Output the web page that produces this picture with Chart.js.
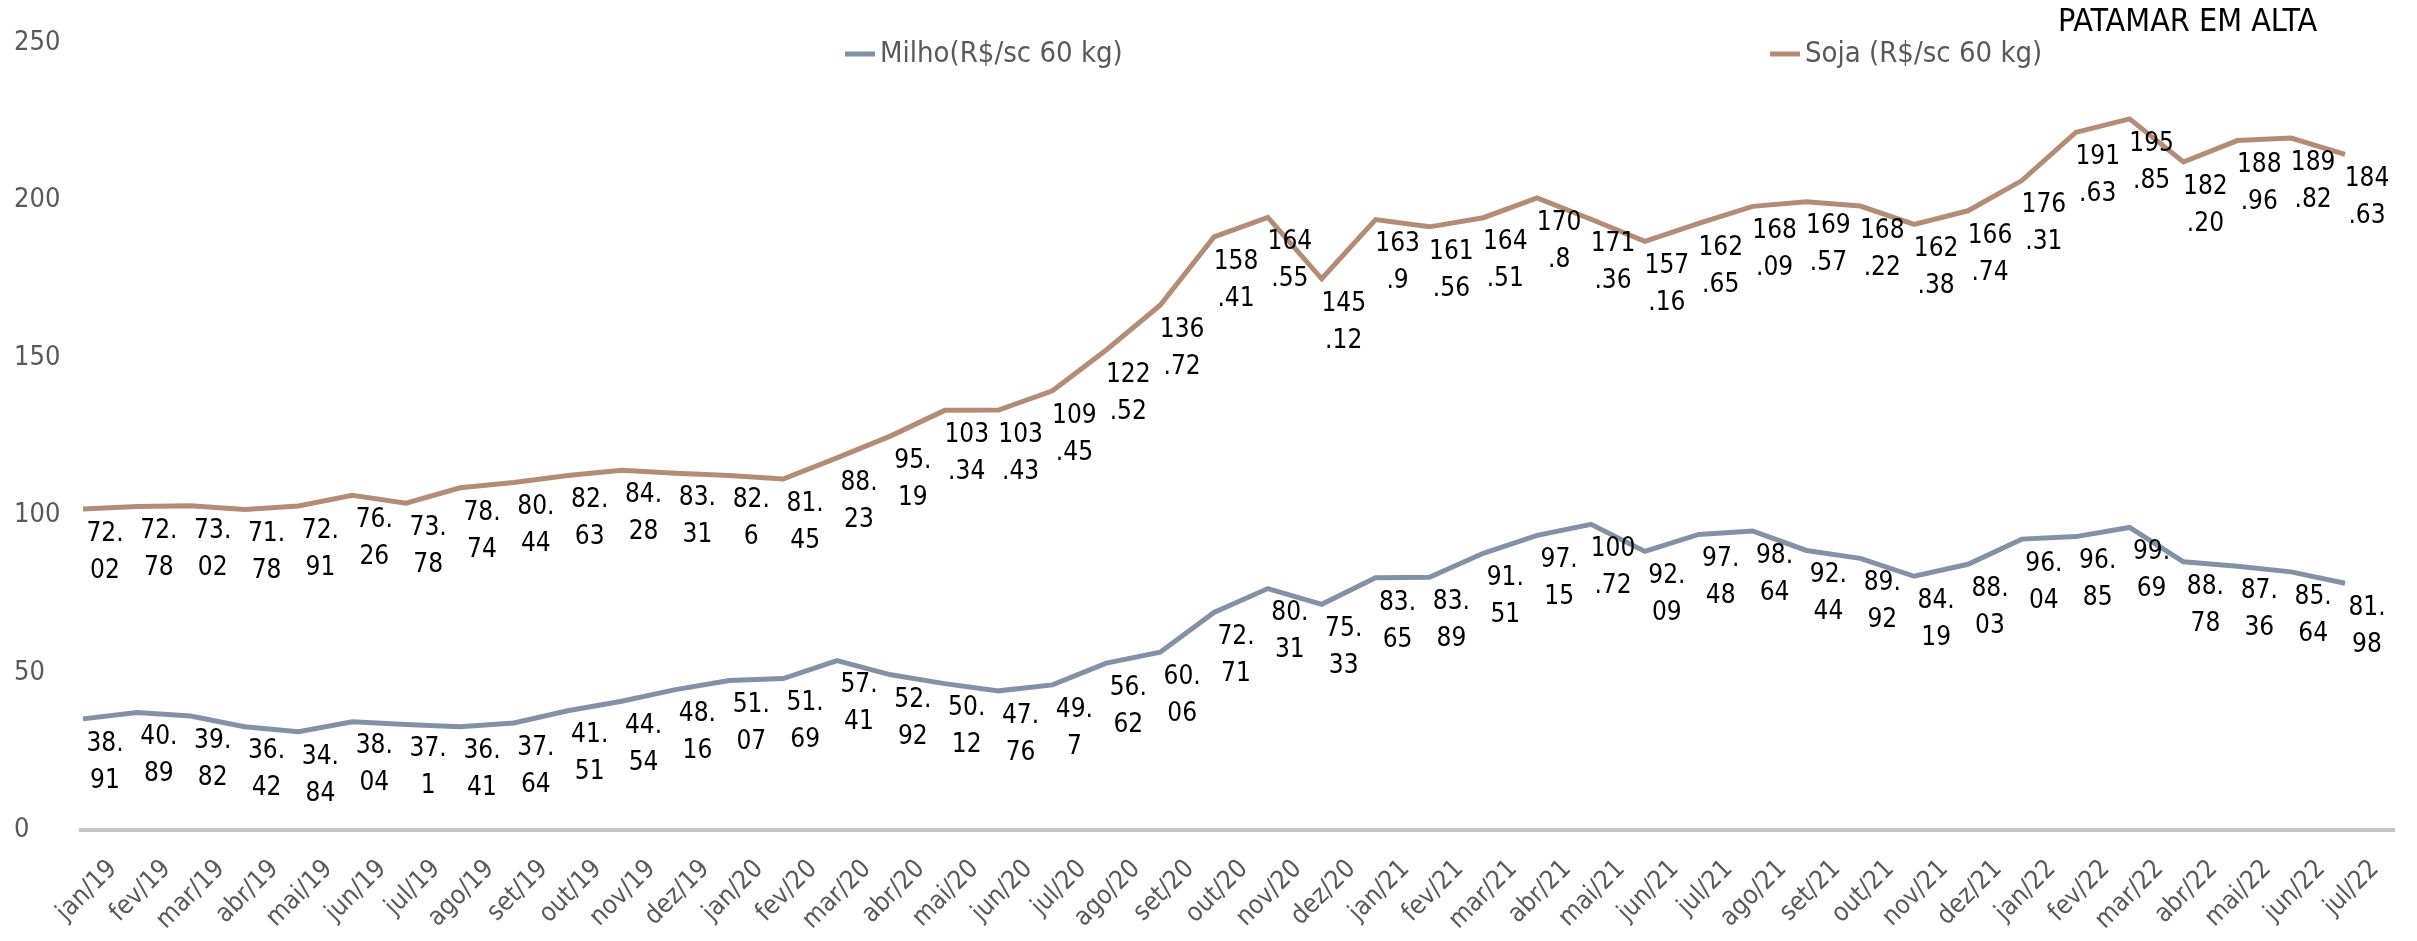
<!DOCTYPE html>
<html>
<head>
<meta charset="utf-8">
<script src="https://cdn.jsdelivr.net/npm/chart.js@4"></script>
<style>
html, body { margin: 0; padding: 0; background: #fff; }
</style>
</head>
<body>
<canvas id="my_chart" width="2417" height="941"></canvas>
<script>
var months = ['jan/19','fev/19','mar/19','abr/19','mai/19','jun/19','jul/19','ago/19','set/19','out/19','nov/19','dez/19',
  'jan/20','fev/20','mar/20','abr/20','mai/20','jun/20','jul/20','ago/20','set/20','out/20','nov/20','dez/20',
  'jan/21','fev/21','mar/21','abr/21','mai/21','jun/21','jul/21','ago/21','set/21','out/21','nov/21','dez/21',
  'jan/22','fev/22','mar/22','abr/22','mai/22','jun/22','jul/22']

// line heights
var milho_values = [35.3, 37.3, 36.2, 32.8, 31.2, 34.4, 33.5, 32.8, 34.0, 37.9, 40.9, 44.6,
  47.5, 48.1, 53.8, 49.3, 46.5, 44.2, 46.1, 53.0, 56.5, 69.1, 76.7, 71.7,
  80.1, 80.3, 87.9, 93.6, 97.1, 88.5, 93.9, 95.0, 88.8, 86.3, 80.6, 84.4,
  92.4, 93.2, 96.1, 85.2, 83.8, 82.0, 78.4]
var soja_values = [102.0, 102.8, 103.0, 101.8, 102.9, 106.3, 103.8, 108.7, 110.4, 112.6, 114.3, 113.3,
  112.6, 111.5, 118.2, 125.2, 133.3, 133.4, 139.5, 152.5, 166.7, 188.4, 194.6, 175.1,
  193.9, 191.6, 194.5, 200.8, 194.0, 187.0, 192.7, 198.1, 199.6, 198.2, 192.4, 196.7,
  206.3, 221.6, 225.9, 212.2, 219.0, 219.8, 214.6]

// numbers printed next to the points
var milho_labels = ['38.91','40.89','39.82','36.42','34.84','38.04','37.1','36.41','37.64','41.51','44.54','48.16',
  '51.07','51.69','57.41','52.92','50.12','47.76','49.7','56.62','60.06','72.71','80.31','75.33',
  '83.65','83.89','91.51','97.15','100.72','92.09','97.48','98.64','92.44','89.92','84.19','88.03',
  '96.04','96.85','99.69','88.78','87.36','85.64','81.98']
var soja_labels = ['72.02','72.78','73.02','71.78','72.91','76.26','73.78','78.74','80.44','82.63','84.28','83.31',
  '82.6','81.45','88.23','95.19','103.34','103.43','109.45','122.52','136.72','158.41','164.55','145.12',
  '163.9','161.56','164.51','170.8','171.36','157.16','162.65','168.09','169.57','168.22','162.38','166.74',
  '176.31','191.63','195.85','182.20','188.96','189.82','184.63']

var y_ticks = [0, 50, 100, 150, 200, 250]

var FONT = '"DejaVu Sans Condensed", "DejaVu Sans", sans-serif'
var MILHO_COLOR = '#8391a6'
var SOJA_COLOR = '#b48c76'

function split_label(s) {
  var parts = s.split('.')
  if (parts[0].length <= 2) return [parts[0] + '.', parts[1]]
  return [parts[0], '.' + parts[1]]
}

// zero line, a bit wider than the plot like the original
var zeroLine = {
  id: 'zeroLine',
  beforeDatasetsDraw(chart) {
    var ctx = chart.ctx
    var y = chart.scales.y.getPixelForValue(0)
    ctx.save()
    ctx.strokeStyle = '#c4c4c4'
    ctx.lineWidth = 4
    ctx.beginPath()
    ctx.moveTo(chart.chartArea.left - 4, y)
    ctx.lineTo(chart.chartArea.right + 50, y)
    ctx.stroke()
    ctx.restore()
  }
}

var valueLabels = {
  id: 'valueLabels',
  afterDatasetsDraw(chart) {
    var ctx = chart.ctx
    ctx.save()
    ctx.font = '26px ' + FONT
    ctx.fillStyle = '#000'
    ctx.textAlign = 'center'
    ctx.textBaseline = 'middle'
    chart.data.datasets.forEach(function(ds, i) {
      chart.getDatasetMeta(i).data.forEach(function(pt, j) {
        var lines = split_label(ds.valueText[j])
        ctx.fillText(lines[0], pt.x + 22, pt.y + 25)
        ctx.fillText(lines[1], pt.x + 22, pt.y + 62)
      })
    })
    ctx.restore()
  }
}

// legend items sit far apart in the original, so draw them by hand
var looseLegend = {
  id: 'looseLegend',
  afterDraw(chart) {
    var ctx = chart.ctx
    var spots = [845, 1770]
    ctx.save()
    ctx.font = '29px ' + FONT
    ctx.textBaseline = 'middle'
    chart.data.datasets.forEach(function(ds, i) {
      var x = spots[i], y = 54
      ctx.strokeStyle = ds.borderColor
      ctx.lineWidth = 5
      ctx.beginPath()
      ctx.moveTo(x, y)
      ctx.lineTo(x + 30, y)
      ctx.stroke()
      ctx.fillStyle = '#595959'
      ctx.fillText(ds.label, x + 35, y)
    })
    ctx.font = '32px ' + FONT
    ctx.fillStyle = '#000'
    ctx.fillText('PATAMAR EM ALTA', 2058, 23)
    ctx.restore()
  }
}

ctx = document.getElementById("my_chart")
my_chart = new Chart(ctx, {
  type: 'line',
  data: {
    labels: months,
    datasets: [
      {
        label: 'Milho(R$/sc 60 kg)',
        data: milho_values,
        valueText: milho_labels,
        borderColor: MILHO_COLOR,
        borderWidth: 5,
        pointRadius: 0,
        tension: 0
      },
      {
        label: 'Soja (R$/sc 60 kg)',
        data: soja_values,
        valueText: soja_labels,
        borderColor: SOJA_COLOR,
        borderWidth: 5,
        pointRadius: 0,
        tension: 0
      }
    ]
  },
  options: {
    responsive: false,
    animation: false,
    devicePixelRatio: 1,
    layout: { padding: { left: 14, top: 43, right: 72, bottom: 0 } },
    plugins: {
      legend: { display: false },
      tooltip: { enabled: false }
    },
    scales: {
      x: {
        offset: false,
        grid: { display: false },
        border: { display: false },
        ticks: {
          autoSkip: false,
          minRotation: 45,
          maxRotation: 45,
          labelOffset: 30,
          padding: 16,
          color: '#595959',
          font: { family: FONT, size: 26 }
        },
        afterFit: function(scale) { scale.height = 111 }
      },
      y: {
        min: 0,
        max: 250,
        afterBuildTicks: function(scale) { scale.ticks = y_ticks.map(function(v) { return { value: v } }) },
        grid: { display: false },
        border: { display: false },
        ticks: {
          crossAlign: 'far',
          color: '#595959',
          font: { family: FONT, size: 27 }
        },
        afterFit: function(scale) { scale.width = 69 }
      }
    }
  },
  plugins: [zeroLine, valueLabels, looseLegend]
})
</script>
</body>
</html>
